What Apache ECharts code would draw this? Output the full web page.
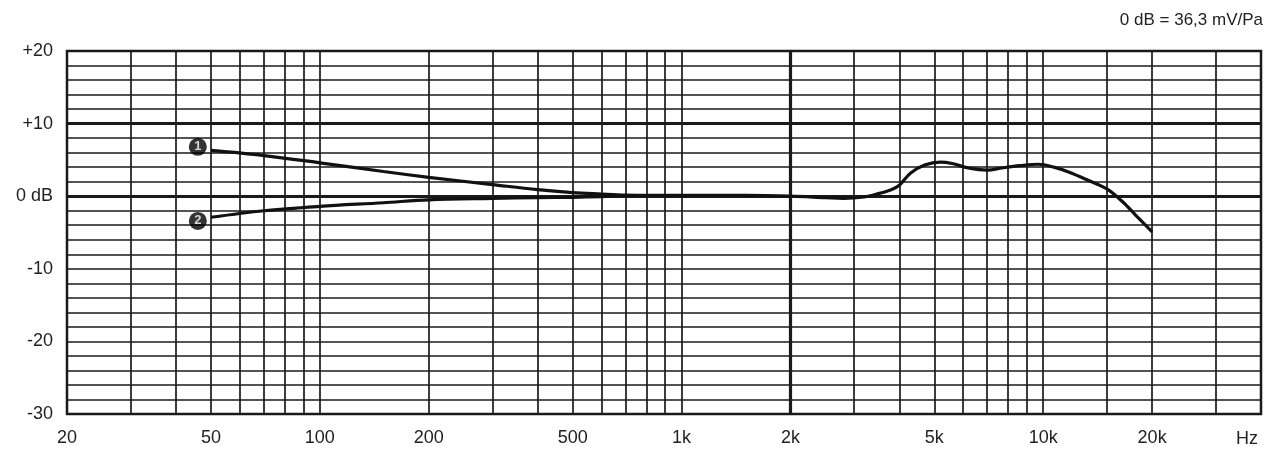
<!DOCTYPE html>
<html>
<head>
<meta charset="utf-8">
<title>Frequenzgang</title>
<script src="https://cdn.jsdelivr.net/npm/echarts@6/dist/echarts.min.js"></script>
<style>
    html, body { margin: 0; padding: 0; background: #fff; }
    #main { width: 1267px; height: 453px; }
</style>
</head>
<body>
<div id="main"></div>
<script>
// Kurve 1 (und gemeinsamer Verlauf ab ca. 700 Hz)
var freq1 = [50, 70, 100, 150, 200, 300, 400, 500, 600, 700, 800, 1000, 1500, 2000, 2500, 2800, 3200, 3500, 3800, 4000,
    4300, 4700, 5200, 5600, 6200, 7000, 7700, 8600, 9700, 10700, 11800, 13300, 15000, 16600, 18000, 20000];
var db1 = [6.3, 5.6, 4.6, 3.4, 2.6, 1.6, 0.9, 0.5, 0.3, 0.15, 0.1, 0.1, 0.1, 0, -0.2, -0.3, -0.1, 0.35, 0.9, 1.5,
    3.2, 4.3, 4.7, 4.5, 3.9, 3.6, 3.9, 4.2, 4.4, 4.0, 3.3, 2.2, 1.0, -0.8, -2.6, -4.9];

// Kurve 2 (Bassabsenkung)
var freq2 = [50, 70, 100, 150, 200, 300, 400, 500, 600, 700];
var db2 = [-2.9, -2.0, -1.4, -0.9, -0.5, -0.3, -0.2, -0.15, -0.05, 0.1];

// Nummern an den Kurvenanfaengen
var markerFreq = [46, 46];
var markerDb = [6.8, -3.4];
var markerText = ['1', '2'];

// Achsen
var gridFreqs = [20, 30, 40, 50, 60, 70, 80, 90, 100, 200, 300, 400, 500, 600, 700, 800, 900,
    1000, 2000, 3000, 4000, 5000, 6000, 7000, 8000, 9000, 10000, 15000, 20000, 30000];
var labelFreqs = [20, 50, 100, 200, 500, 1000, 2000, 5000, 10000, 20000];
var thickFreqs = [2000];
var thickDb = [10, 0];
var dbLabels = {'20': '+20', '10': '+10', '0': '0 dB', '-10': '-10', '-20': '-20', '-30': '-30'};
var freqMin = 20, freqMax = 40000;

var lg = function (f) { return Math.log10(f); };

function toPairs(fs, ds) {
    var out = [];
    for (var i = 0; i < fs.length; i++) {
        out.push([lg(fs[i]), ds[i]]);
    }
    return out;
}

var markers = [];
for (var i = 0; i < markerFreq.length; i++) {
    markers.push({value: [lg(markerFreq[i]), markerDb[i]], label: {formatter: markerText[i]}});
}

var thickLines = [];
for (var i = 0; i < thickFreqs.length; i++) thickLines.push({xAxis: lg(thickFreqs[i])});
for (var i = 0; i < thickDb.length; i++) thickLines.push({yAxis: thickDb[i]});

var font = 'Liberation Sans, Arial, sans-serif';
var ink = '#1a1a1a';

var chart = echarts.init(document.getElementById('main'), null, {renderer: 'canvas'});

var option = {
    backgroundColor: '#fff',
    animation: false,
    grid: {
        left: 67, right: 6, top: 51, bottom: 39,
        show: true,
        borderColor: ink,
        borderWidth: 2.5
    },
    graphic: [
        {
            type: 'text', right: 4, top: 12,
            style: {text: '0 dB = 36,3 mV/Pa', fill: '#222', font: '17px ' + font}
        },
        {
            type: 'text', left: 1236, top: 430,
            style: {text: 'Hz', fill: '#222', font: '18px ' + font}
        }
    ],
    xAxis: {
        type: 'value',
        min: lg(freqMin),
        max: lg(freqMax),
        axisLine: {show: false},
        axisTick: {show: false, customValues: gridFreqs.map(lg)},
        axisLabel: {
            customValues: labelFreqs.map(lg),
            margin: 15,
            color: '#222',
            fontFamily: font,
            fontSize: 18,
            formatter: function (v) {
                var f = Math.round(Math.pow(10, v));
                return f >= 1000 ? (f / 1000) + 'k' : String(f);
            }
        },
        splitLine: {show: true, lineStyle: {color: ink, width: 1.7}}
    },
    yAxis: {
        type: 'value',
        min: -30,
        max: 20,
        interval: 2,
        axisLine: {show: false},
        axisTick: {show: false},
        axisLabel: {
            margin: 14,
            color: '#222',
            fontFamily: font,
            fontSize: 18,
            formatter: function (v) {
                return dbLabels[String(v)] || '';
            }
        },
        splitLine: {show: true, lineStyle: {color: ink, width: 1.7}}
    },
    series: [
        {
            name: '1',
            type: 'line',
            data: toPairs(freq1, db1),
            smooth: 0.35,
            symbol: 'none',
            lineStyle: {color: '#111', width: 3.2},
            markLine: {
                silent: true,
                symbol: 'none',
                label: {show: false},
                lineStyle: {color: ink, width: 3.2, type: 'solid'},
                data: thickLines
            },
            z: 5
        },
        {
            name: '2',
            type: 'line',
            data: toPairs(freq2, db2),
            smooth: 0.35,
            symbol: 'none',
            lineStyle: {color: '#111', width: 3.2},
            z: 5
        },
        {
            name: 'nr',
            type: 'scatter',
            data: markers,
            symbol: 'circle',
            symbolSize: 18,
            itemStyle: {color: '#000'},
            label: {
                show: true,
                position: 'inside',
                color: '#fff',
                fontFamily: font,
                fontWeight: 'bold',
                fontSize: 13
            },
            z: 6
        }
    ]
};

chart.setOption(option);
</script>
</body>
</html>
